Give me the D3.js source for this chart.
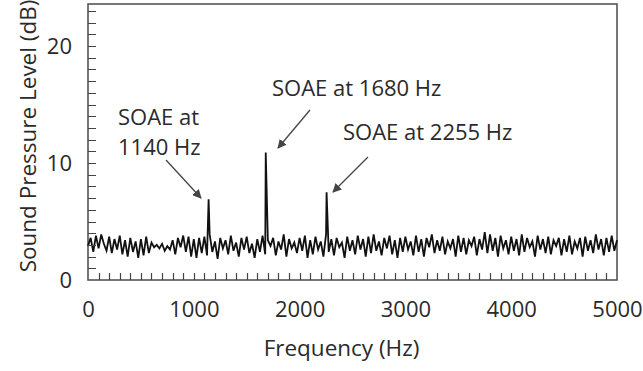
<!DOCTYPE html>
<html>
<head>
<meta charset="utf-8">
<script src="https://cdn.jsdelivr.net/npm/d3@7"></script>
<style>
  body { margin: 0; background: #fff; }
  text { font-family: "Open Sans", sans-serif; fill: #2a2a2a; }
</style>
</head>
<body>
<div id="vis"></div>
<script>
const W = 643, H = 371;
const margin = { top: 4, right: 26, bottom: 91, left: 88 };
const width = W - margin.left - margin.right;
const height = H - margin.top - margin.bottom;

// background noise floor, one value per 25 Hz bin from 0 to 5000 Hz
const binStep = 25;
const noiseLevels = [
  2.9, 3.6, 2.4, 3.8, 2.7, 3.9, 3.1, 2.5, 3.7, 2.3, 3.5, 2.6, 3.8, 2.2, 3.4, 2.0, 3.6, 2.4, 3.3, 1.9,
  3.5, 2.1, 3.7, 2.3, 3.2, 2.8, 3.0, 2.7, 3.1, 2.5, 2.9, 2.6, 3.4, 2.2, 3.6, 2.8, 3.8, 2.4, 3.7, 2.0,
  3.5, 1.9, 3.6, 2.3, 3.7, 2.1, 3.9, 2.4, 3.3, 1.8, 3.6, 2.7, 3.4, 2.2, 3.8, 2.5, 3.2, 2.0, 3.6, 2.6,
  3.7, 2.3, 3.1, 1.9, 3.5, 2.4, 3.8, 2.2, 3.4, 2.9, 3.6, 2.1, 3.3, 2.6, 3.9, 2.0, 3.5, 2.7, 3.2, 2.3,
  3.6, 2.5, 3.8, 1.9, 3.4, 2.2, 3.7, 2.6, 3.3, 2.0, 3.9, 2.4, 3.5, 2.1, 3.6, 2.8, 3.2, 1.9, 3.7, 2.5,
  3.4, 2.2, 3.8, 2.6, 3.5, 2.0, 3.7, 2.3, 3.9, 2.5, 3.3, 2.1, 3.6, 2.7, 3.8, 2.2, 3.4, 1.9, 3.6, 2.4,
  3.7, 2.6, 3.3, 2.1, 3.8, 2.4, 3.5, 2.0, 3.6, 2.8, 3.9, 2.3, 3.4, 2.5, 3.7, 2.2, 3.3, 2.7, 3.5, 2.0,
  3.8, 2.4, 3.6, 2.2, 3.4, 2.9, 3.7, 2.1, 3.5, 2.6, 4.1, 2.3, 3.9, 2.5, 3.6, 2.0, 3.8, 2.7, 3.4, 2.2,
  3.7, 2.5, 3.5, 2.1, 3.9, 2.4, 3.6, 2.8, 3.3, 2.0, 3.8, 2.6, 3.5, 2.3, 3.7, 2.2, 3.4, 2.9, 3.6, 2.1,
  3.5, 2.4, 3.8, 2.2, 3.3, 2.7, 3.6, 2.0, 3.7, 2.5, 3.4, 2.3, 3.9, 2.6, 3.5, 2.1, 3.6, 2.4, 3.8, 2.5,
  3.4
];

// spontaneous otoacoustic emission peaks
const peakFreqs = [1140, 1680, 2255];
const peakLevels = [6.9, 10.9, 7.5];

const xTicks = [0, 1000, 2000, 3000, 4000, 5000];
const yTicks = [0, 10, 20];
const xMinorTicks = d3.range(100, 5000, 100);
const yMinorTicks = d3.range(1, 24, 1);

const annotations = [
  { lines: ["SOAE at", "1140 Hz"], x: 118, y: 125, from: [166, 160], to: [201, 198] },
  { lines: ["SOAE at 1680 Hz"], x: 272, y: 96, from: [310, 110], to: [278, 148] },
  { lines: ["SOAE at 2255 Hz"], x: 343, y: 140, from: [368, 157], to: [333, 192] }
];

// build spectrum: noise bins with the peaks inserted
let spectrum = noiseLevels.map((v, i) => ({ f: i * binStep, db: v }));
peakFreqs.forEach((f, i) => spectrum.push({ f: f, db: peakLevels[i] }));
spectrum.sort((a, b) => a.f - b.f);

const svgRoot = d3.select("#vis").append("svg")
  .attr("width", W).attr("height", H);

const defs = svgRoot.append("defs");
defs.append("marker")
  .attr("id", "arrow")
  .attr("viewBox", "0 0 10 10")
  .attr("refX", 9).attr("refY", 5)
  .attr("markerWidth", 9).attr("markerHeight", 9)
  .attr("markerUnits", "userSpaceOnUse")
  .attr("orient", "auto")
  .append("path")
  .attr("d", "M0,0 L10,5 L0,10 Z")
  .attr("fill", "#444");

const svg = svgRoot.append("g")
  .attr("transform", `translate(${margin.left},${margin.top})`);

const xScale = d3.scaleLinear().domain([0, 5000]).range([0, width]);
const yScale = d3.scaleLinear().domain([0, 23.6]).range([height, 0]);

// frame
svg.append("rect")
  .attr("width", width).attr("height", height)
  .attr("fill", "none")
  .attr("stroke", "#555")
  .attr("stroke-width", 1.6);

// tick labels
const xLab = d3.axisBottom(xScale).tickValues(xTicks)
  .tickFormat(d3.format("d")).tickSize(0).tickPadding(21);
svg.append("g")
  .attr("transform", `translate(0,${height})`)
  .call(xLab)
  .call(g => g.select(".domain").remove())
  .call(g => g.selectAll("text").style("font-size", "22px").attr("font-family", null).attr("fill", null));

const yLab = d3.axisLeft(yScale).tickValues(yTicks)
  .tickFormat(d3.format("d")).tickSize(0).tickPadding(16);
svg.append("g")
  .call(yLab)
  .call(g => g.select(".domain").remove())
  .call(g => g.selectAll("text").style("font-size", "22px").attr("font-family", null).attr("fill", null));

// spectrum trace
const line = d3.line()
  .x(d => xScale(d.f))
  .y(d => yScale(d.db));
svg.append("path")
  .datum(spectrum)
  .attr("d", line)
  .attr("fill", "none")
  .attr("stroke", "#111")
  .attr("stroke-width", 1.8)
  .attr("stroke-linejoin", "miter");

// minor ticks pointing inward, drawn as one path
const tickPath = d3.path();
xMinorTicks.forEach(f => {
  const x = Math.round(margin.left + xScale(f)) + 0.5;
  tickPath.moveTo(x, margin.top + height);
  tickPath.lineTo(x, margin.top + height - 7);
});
yMinorTicks.forEach(v => {
  const y = Math.round(margin.top + yScale(v)) + 0.5;
  tickPath.moveTo(margin.left, y);
  tickPath.lineTo(margin.left + 8, y);
});
svgRoot.append("path")
  .attr("d", tickPath.toString())
  .attr("fill", "none")
  .attr("stroke", "#444")
  .attr("stroke-width", 1.2);

// axis titles
svg.append("text")
  .attr("x", width / 2 - 11)
  .attr("y", height + 76)
  .attr("text-anchor", "middle")
  .style("font-size", "22.5px")
  .text("Frequency (Hz)");

svg.append("text")
  .attr("transform", "rotate(-90)")
  .attr("x", -(136 - margin.top))
  .attr("y", -margin.left + 36)
  .attr("text-anchor", "middle")
  .style("font-size", "22.5px")
  .text("Sound Pressure Level (dB)");

// annotations
annotations.forEach(a => {
  const t = svgRoot.append("text")
    .attr("x", a.x).attr("y", a.y)
    .style("font-size", "22px");
  a.lines.forEach((s, i) => {
    t.append("tspan").attr("x", a.x).attr("dy", i === 0 ? 0 : 30).text(s);
  });
  svgRoot.append("line")
    .attr("x1", a.from[0]).attr("y1", a.from[1])
    .attr("x2", a.to[0]).attr("y2", a.to[1])
    .attr("stroke", "#444")
    .attr("stroke-width", 1.3)
    .attr("marker-end", "url(#arrow)");
});
</script>
</body>
</html>
